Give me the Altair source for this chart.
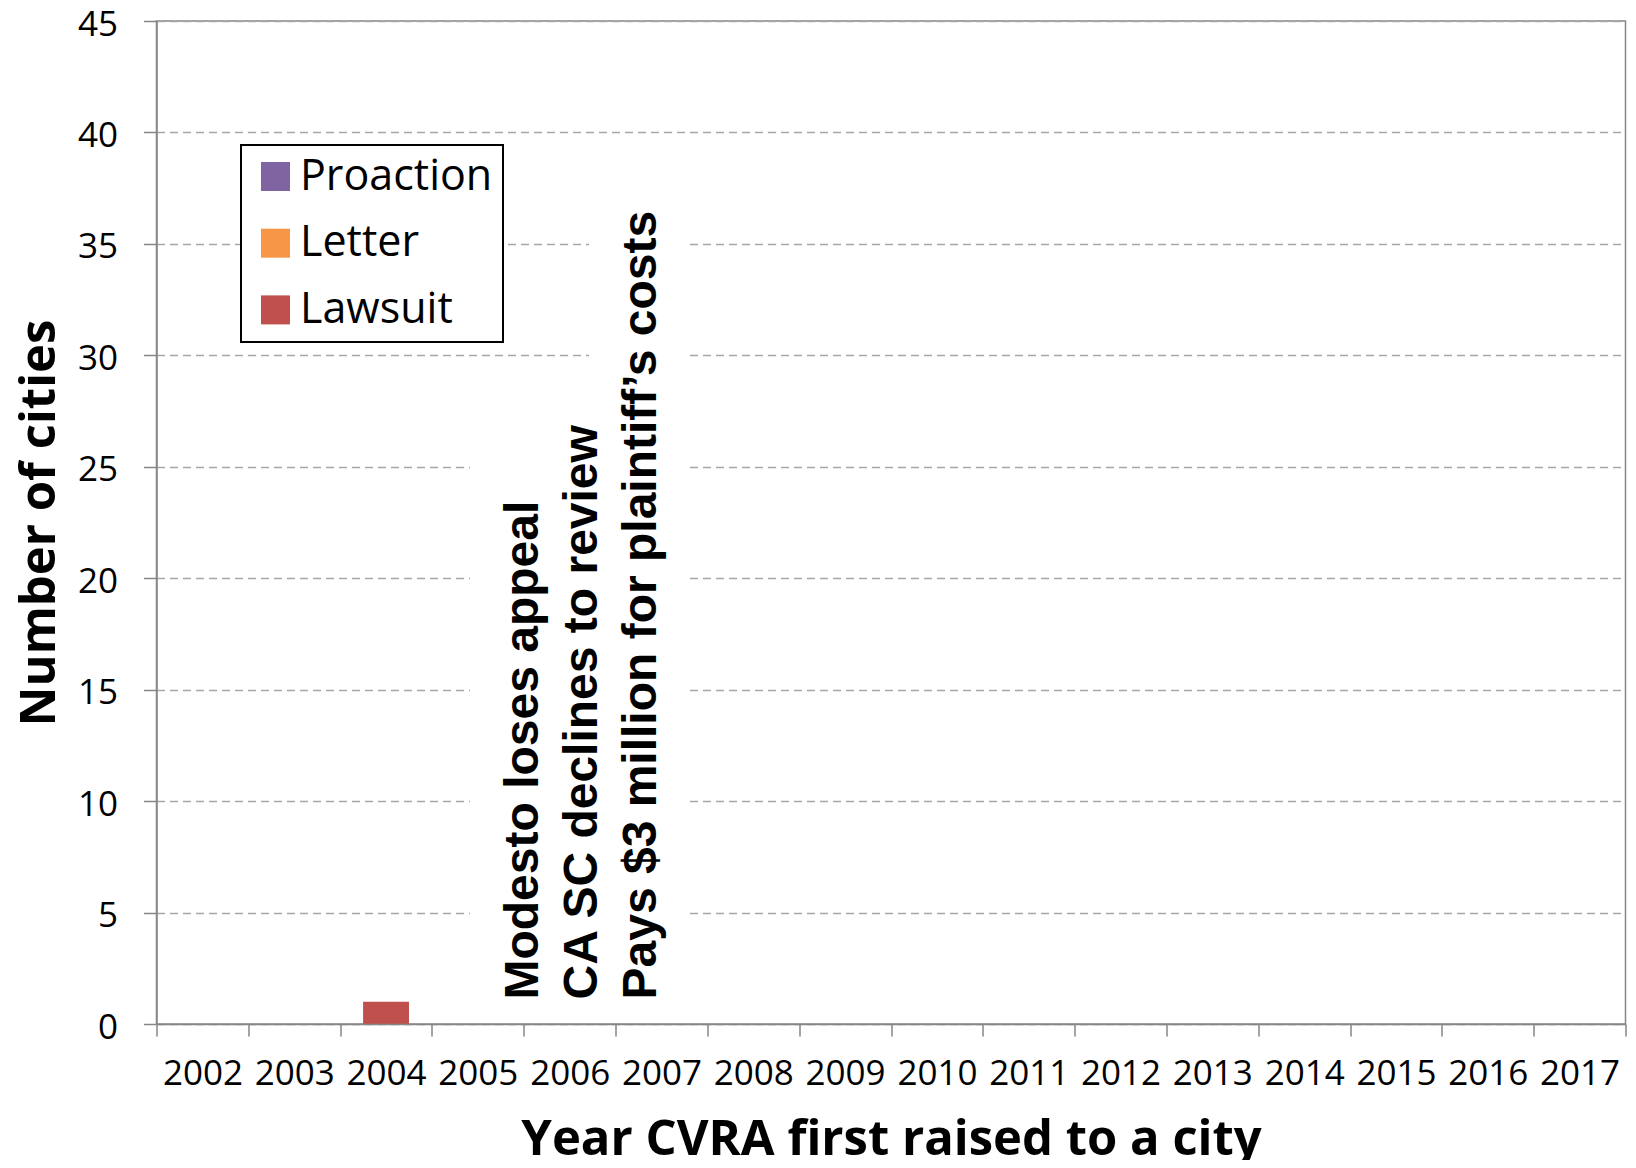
import altair as alt
import pandas as pd

# ---- data ----
years = ["2002", "2003", "2004", "2005", "2006", "2007", "2008", "2009",
         "2010", "2011", "2012", "2013", "2014", "2015", "2016", "2017"]
proaction = [0, 0, 0, 0, 0, 0, 0, 0, 0, 0, 0, 0, 0, 0, 0, 0]
letter = [0, 0, 0, 0, 0, 0, 0, 0, 0, 0, 0, 0, 0, 0, 0, 0]
lawsuit = [0, 0, 1, 0, 0, 0, 0, 0, 0, 0, 0, 0, 0, 0, 0, 0]

series_names = ["Proaction", "Letter", "Lawsuit"]
series_colors = ["#8064A2", "#F79646", "#C0504D"]
stack_order = {"Lawsuit": 0, "Letter": 1, "Proaction": 2}

y_ticks = [0, 5, 10, 15, 20, 25, 30, 35, 40, 45]

annotation_lines = ["Modesto loses appeal",
                    "CA SC declines to review",
                    "Pays $3 million for plaintiff\u2019s costs"]
annotation_year = ["2006"]

# white text boxes behind the annotation (in year-band / count units)
box_b = {"x0": ["2005"], "x1": ["2006"], "y0": [0.84], "y1": [27.4]}
box_a = {"x0": ["2006"], "x1": ["2007"], "y0": [0.84], "y1": [36.9]}

X_TITLE = "Year CVRA first raised to a city"
Y_TITLE = "Number of cities"
FONT = "Open Sans"
AXIS_GRAY = "#868686"

rows = []
for name, vals in zip(series_names, [proaction, letter, lawsuit]):
    for yr, v in zip(years, vals):
        rows.append({"year": yr, "series": name, "count": v,
                     "order": stack_order[name]})
df = pd.DataFrame(rows)

x_scale = alt.Scale(domain=years, paddingInner=0, paddingOuter=0)
y_scale = alt.Scale(domain=[0, 45], nice=False)

x_axis = alt.Axis(labelAngle=0, labelAlign="center", tickBand="extent",
                  bandPosition=0.5, tickSize=12, tickWidth=1.5,
                  tickColor=AXIS_GRAY, domainColor=AXIS_GRAY, domainWidth=1.5,
                  labelFont=FONT, labelFontSize=35, labelColor="black",
                  labelPadding=37.5, labelOverlap=False, grid=False,
                  titleFont=FONT, titleFontSize=49, titleFontWeight="bold",
                  titleColor="black", titlePadding=63, titleBaseline="alphabetic")
y_axis = alt.Axis(values=y_ticks, grid=True, gridDash=[8, 5], gridColor="#a6a6a6",
                  gridWidth=1.3, tickSize=13, tickWidth=1.5, tickColor=AXIS_GRAY,
                  domainColor=AXIS_GRAY, domainWidth=1.5,
                  labelFont=FONT, labelFontSize=35, labelColor="black",
                  labelPadding=26, labelOffset=3, titleFont=FONT, titleFontSize=49,
                  titleFontWeight="bold", titleColor="black", titlePadding=23,
                  titleBaseline="alphabetic")

bars = alt.Chart(df).mark_bar(width=alt.RelativeBandSize(0.5)).encode(
    x=alt.X("year:N", sort=years, scale=x_scale, axis=x_axis, title=X_TITLE),
    y=alt.Y("count:Q", stack="zero", scale=y_scale, axis=y_axis, title=Y_TITLE),
    color=alt.Color("series:N",
                    scale=alt.Scale(domain=series_names, range=series_colors),
                    legend=alt.Legend(title=None, orient="none", legendX=84.5,
                                      legendY=124, fillColor="white",
                                      strokeColor="black", padding=10,
                                      symbolOffset=3,
                                      symbolType="square", symbolSize=841,
                                      symbolStrokeWidth=0, labelFont=FONT,
                                      labelFontSize=43, labelColor="black",
                                      labelLimit=0,
                                      rowPadding=22.7, labelOffset=3)),
    order=alt.Order("order:Q"),
)


def white_box(box, p0, p1):
    return alt.Chart(pd.DataFrame(box)).mark_rect(color="white").encode(
        x=alt.X("x0:N", bandPosition=p0, scale=x_scale, title=X_TITLE),
        x2=alt.X2("x1", bandPosition=p1),
        y=alt.Y("y0:Q", scale=y_scale, title=Y_TITLE),
        y2="y1",
    )


box_layer_b = white_box(box_b, 0.415, 0.711)
box_layer_a = white_box(box_a, 0.711, 0.779)

text = alt.Chart(pd.DataFrame({"year": annotation_year, "count": [0]})).mark_text(
    angle=270, align="left", baseline="alphabetic", font="Liberation Sans",
    fontWeight="bold", fontSize=48, lineHeight=59, dx=24.5, color="black",
).encode(
    x=alt.X("year:N", bandPosition=0.16, scale=x_scale, title=X_TITLE),
    y=alt.Y("count:Q", scale=y_scale, title=Y_TITLE),
    text=alt.value(annotation_lines),
)

chart = alt.layer(box_layer_b, box_layer_a, bars, text).properties(
    width=1469, height=1003,
    padding={"left": 148.5, "top": 13, "right": 2, "bottom": 136},
    autosize=alt.AutoSizeParams(type="none"),
    background="white",
).configure_view(
    stroke=AXIS_GRAY, strokeWidth=1.5
).configure_legend(strokeWidth=2)

chart.save("out.html", embed_options={"renderer": "svg", "actions": False})
